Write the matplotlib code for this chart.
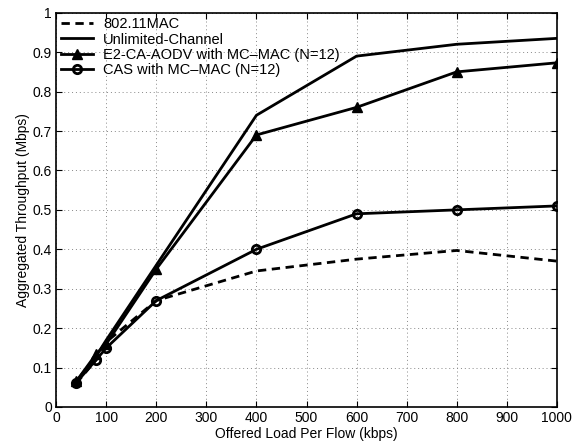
import matplotlib.pyplot as plt

plt.rcParams['font.family'] = ['Liberation Sans', 'DejaVu Sans']

load = [40, 80, 100, 200, 400, 600, 800, 1000]
mac80211 = [0.06, 0.12, 0.165, 0.27, 0.345, 0.375, 0.397, 0.37]
unlimited = [0.065, 0.13, 0.17, 0.36, 0.74, 0.89, 0.92, 0.935]
e2_ca_aodv = [0.065, 0.135, 0.16, 0.35, 0.69, 0.76, 0.85, 0.873]
cas = [0.062, 0.12, 0.15, 0.27, 0.40, 0.49, 0.50, 0.51]

fig = plt.figure(figsize=(5.74, 4.47), dpi=100)
ax = fig.add_axes([0.098, 0.0895, 0.872, 0.882])

ax.plot(load, mac80211, '--', color='black', lw=2, dashes=(3, 2), label='802.11MAC')
ax.plot(load, unlimited, '-', color='black', lw=2, label='Unlimited-Channel')
ax.plot(load, e2_ca_aodv, '-^', color='black', lw=2, ms=7, label='E2-CA-AODV with MC\u2013MAC (N=12)')
ax.plot(load, cas, '-o', color='black', lw=2, ms=6, mfc='none', mew=2,
        label='CAS with MC\u2013MAC (N=12)')

ax.set_xlim(0, 1000)
ax.set_ylim(0, 1)
ax.set_xticks(range(0, 1001, 100))
ax.set_yticks([i / 10 for i in range(11)])
ax.set_yticklabels(['0', '0.1', '0.2', '0.3', '0.4', '0.5', '0.6', '0.7', '0.8', '0.9', '1'])
ax.grid(True, linestyle=(0, (1, 3)), color='#888888', lw=0.7)
ax.tick_params(direction='in', labelsize=10, top=True, right=True, length=4, pad=3)
for s in ax.spines.values():
    s.set_linewidth(1.2)

ax.set_xlabel('Offered Load Per Flow (kbps)', fontsize=10, labelpad=1)
ax.set_ylabel('Aggregated Throughput (Mbps)', fontsize=10, labelpad=2)

ax.legend(loc='upper left', frameon=False, fontsize=10.5, handlelength=2.2,
          borderaxespad=0.0, labelspacing=0.1, handletextpad=0.7,
          borderpad=0.3)

fig.savefig('out.png', dpi=100)
